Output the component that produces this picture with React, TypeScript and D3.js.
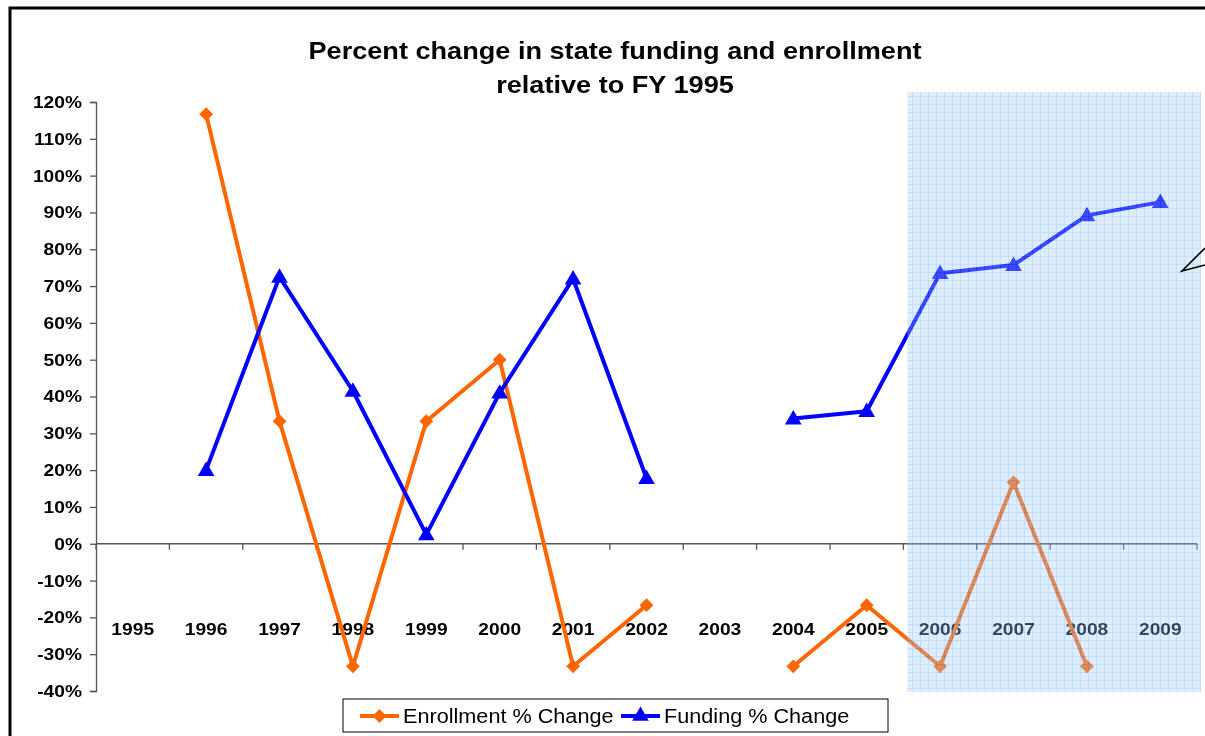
import React, { useRef, useEffect } from "react";
import * as d3 from "d3";

const years = [
  "1995", "1996", "1997", "1998", "1999", "2000", "2001", "2002",
  "2003", "2004", "2005", "2006", "2007", "2008", "2009",
];
// null = no value for that year
const enrollment: (number | null)[] = [
  null, 1.167, 0.333, -0.333, 0.333, 0.5, -0.333, -0.167,
  null, -0.333, -0.167, -0.333, 0.167, -0.333, null,
];
const funding: (number | null)[] = [
  null, 0.2, 0.725, 0.415, 0.025, 0.41, 0.72, 0.178,
  null, 0.34, 0.36, 0.735, 0.757, 0.892, 0.928,
];
const yTicks = [-0.4, -0.3, -0.2, -0.1, 0, 0.1, 0.2, 0.3, 0.4, 0.5, 0.6, 0.7, 0.8, 0.9, 1.0, 1.1, 1.2];
const titleLines = ["Percent change in state funding and enrollment", "relative to FY 1995"];
const seriesNames = ["Enrollment % Change", "Funding % Change"];
const shadedFrom = "2006";

const ORANGE = "#ff6600";
const BLUE = "#0000ff";
const FONT = "Arial, 'Liberation Sans', sans-serif";
// the original text is a bit wider than Liberation Sans renders it
const SX = 1.13;

interface Pt {
  year: string;
  v: number | null;
}

const Chart: React.FC = () => {
  const ref = useRef<SVGSVGElement | null>(null);

  useEffect(() => {
    const width = 1205;
    const height = 736;
    const svg = d3.select(ref.current);
    svg.selectAll("*").remove();
    svg.attr("width", width).attr("height", height);

    const x = d3.scaleBand<string>().domain(years).range([96, 1197]).paddingInner(0).paddingOuter(0);
    const y = d3.scaleLinear().domain([-0.4, 1.2]).range([691, 102]);
    const cx = (yr: string) => (x(yr) ?? 0) + x.bandwidth() / 2;

    // outer frame
    svg
      .append("path")
      .attr("d", `M10,${height} L10,8 L${width},8`)
      .attr("fill", "none")
      .attr("stroke", "#000")
      .attr("stroke-width", 3);

    // title
    const title = svg
      .append("text")
      .attr("transform", `translate(615,0) scale(${SX},1)`)
      .attr("text-anchor", "middle")
      .attr("font-family", FONT)
      .attr("font-weight", "bold")
      .attr("font-size", 24)
      .attr("fill", "#000");
    titleLines.forEach((t, i) => {
      title
        .append("tspan")
        .attr("x", 0)
        .attr("y", 59 + i * 34)
        .text(t);
    });

    // y axis
    const yAxis = svg
      .append("g")
      .attr("transform", `translate(${x.range()[0]},0)`)
      .call(
        d3
          .axisLeft(y)
          .tickValues(yTicks)
          .tickSize(6)
          .tickPadding(8)
          .tickFormat((d) => `${Math.round((d as number) * 100)}%`) as any,
      );
    yAxis.select(".domain").attr("stroke", "#555").attr("stroke-width", 1.3);
    yAxis.selectAll(".tick line").attr("stroke", "#555").attr("stroke-width", 1.3);
    yAxis
      .selectAll(".tick text")
      .attr("x", -14 / SX)
      .attr("transform", `scale(${SX},1)`)
      .attr("font-family", FONT)
      .attr("font-weight", "bold")
      .attr("font-size", 17)
      .attr("fill", "#000");

    // x axis at 0%
    const y0 = y(0);
    const [xr0, xr1] = x.range();
    svg
      .append("line")
      .attr("x1", xr0)
      .attr("x2", xr1)
      .attr("y1", y0)
      .attr("y2", y0)
      .attr("stroke", "#555")
      .attr("stroke-width", 1.3);
    const edges = years.map((yr) => x(yr) ?? 0).concat([xr1]);
    svg
      .append("g")
      .selectAll("line")
      .data(edges)
      .enter()
      .append("line")
      .attr("x1", (d) => d)
      .attr("x2", (d) => d)
      .attr("y1", y0)
      .attr("y2", y0 + 6)
      .attr("stroke", "#555")
      .attr("stroke-width", 1.3);
    svg
      .append("g")
      .selectAll("text")
      .data(years)
      .enter()
      .append("text")
      .attr("transform", (d) => `translate(${cx(d)},${y0 + 91}) scale(${SX},1)`)
      .attr("text-anchor", "middle")
      .attr("font-family", FONT)
      .attr("font-weight", "bold")
      .attr("font-size", 17)
      .attr("fill", "#000")
      .text((d) => d);

    // series
    const line = d3
      .line<Pt>()
      .defined((d) => d.v !== null)
      .x((d) => cx(d.year))
      .y((d) => y(d.v as number));

    const enrollPts: Pt[] = years.map((yr, i) => ({ year: yr, v: enrollment[i] }));
    const fundPts: Pt[] = years.map((yr, i) => ({ year: yr, v: funding[i] }));

    // square turned 45° gives the Excel-style diamond
    const diamond = d3.symbol().type(d3.symbolSquare).size(95);
    const triangle = d3.symbol().type(d3.symbolTriangle).size(120);

    svg
      .append("path")
      .datum(enrollPts)
      .attr("fill", "none")
      .attr("stroke", ORANGE)
      .attr("stroke-width", 4)
      .attr("stroke-linejoin", "round")
      .attr("d", line);
    svg
      .append("path")
      .datum(fundPts)
      .attr("fill", "none")
      .attr("stroke", BLUE)
      .attr("stroke-width", 4)
      .attr("stroke-linejoin", "round")
      .attr("d", line);

    svg
      .append("g")
      .selectAll("path")
      .data(enrollPts.filter((d) => d.v !== null))
      .enter()
      .append("path")
      .attr("transform", (d) => `translate(${cx(d.year)},${y(d.v as number)}) rotate(45)`)
      .attr("d", diamond)
      .attr("fill", ORANGE);
    svg
      .append("g")
      .selectAll("path")
      .data(fundPts.filter((d) => d.v !== null))
      .enter()
      .append("path")
      .attr("transform", (d) => `translate(${cx(d.year)},${y(d.v as number) + 1})`)
      .attr("d", triangle)
      .attr("fill", BLUE);

    // shaded projection area, drawn over the marks
    const defs = svg.append("defs");
    const pat = defs
      .append("pattern")
      .attr("id", "gridFill")
      .attr("patternUnits", "userSpaceOnUse")
      .attr("width", 8)
      .attr("height", 8);
    pat.append("rect").attr("width", 8).attr("height", 8).attr("fill", "#a6d0ff");
    pat.append("rect").attr("x", 0).attr("y", 0).attr("width", 8).attr("height", 1).attr("fill", "#5aa4ff");
    pat.append("rect").attr("x", 0).attr("y", 0).attr("width", 1).attr("height", 8).attr("fill", "#5aa4ff");
    pat.append("rect").attr("x", 4).attr("y", 4).attr("width", 1).attr("height", 1).attr("fill", "#70b0ff");
    const sx0 = (x(shadedFrom) ?? 0) + 4;
    svg
      .append("rect")
      .attr("x", sx0)
      .attr("y", y(1.2) - 10)
      .attr("width", xr1 + 4 - sx0)
      .attr("height", y(-0.4) - y(1.2) + 11)
      .attr("fill", "url(#gridFill)")
      .attr("opacity", 0.36);

    // callout pointer at the right edge
    svg
      .append("path")
      .attr("d", `M${width},248 L1182,271 L${width},265`)
      .attr("fill", "none")
      .attr("stroke", "#000")
      .attr("stroke-width", 1.6);

    // legend
    const lg = svg.append("g").attr("transform", "translate(343,699)");
    lg.append("rect")
      .attr("width", 545)
      .attr("height", 33)
      .attr("fill", "#fff")
      .attr("stroke", "#000")
      .attr("stroke-width", 1);
    const items = [
      { name: seriesNames[0], color: ORANGE, sym: diamond, x0: 17, rot: "rotate(45)" },
      { name: seriesNames[1], color: BLUE, sym: triangle, x0: 278, rot: "" },
    ];
    items.forEach((it) => {
      lg.append("line")
        .attr("x1", it.x0)
        .attr("x2", it.x0 + 39)
        .attr("y1", 17)
        .attr("y2", 17)
        .attr("stroke", it.color)
        .attr("stroke-width", 4);
      lg.append("path")
        .attr("transform", `translate(${it.x0 + 19.5},17) ${it.rot}`)
        .attr("d", it.sym)
        .attr("fill", it.color);
      lg.append("text")
        .attr("transform", `translate(${it.x0 + 43},24) scale(1.11,1)`)
        .attr("font-family", FONT)
        .attr("font-size", 19.5)
        .attr("fill", "#000")
        .text(it.name);
    });
  }, []);

  return <svg ref={ref} style={{ display: "block" }} />;
};

export default function App() {
  return (
    <div style={{ position: "fixed", left: 0, top: 0 }}>
      <Chart />
    </div>
  );
}
